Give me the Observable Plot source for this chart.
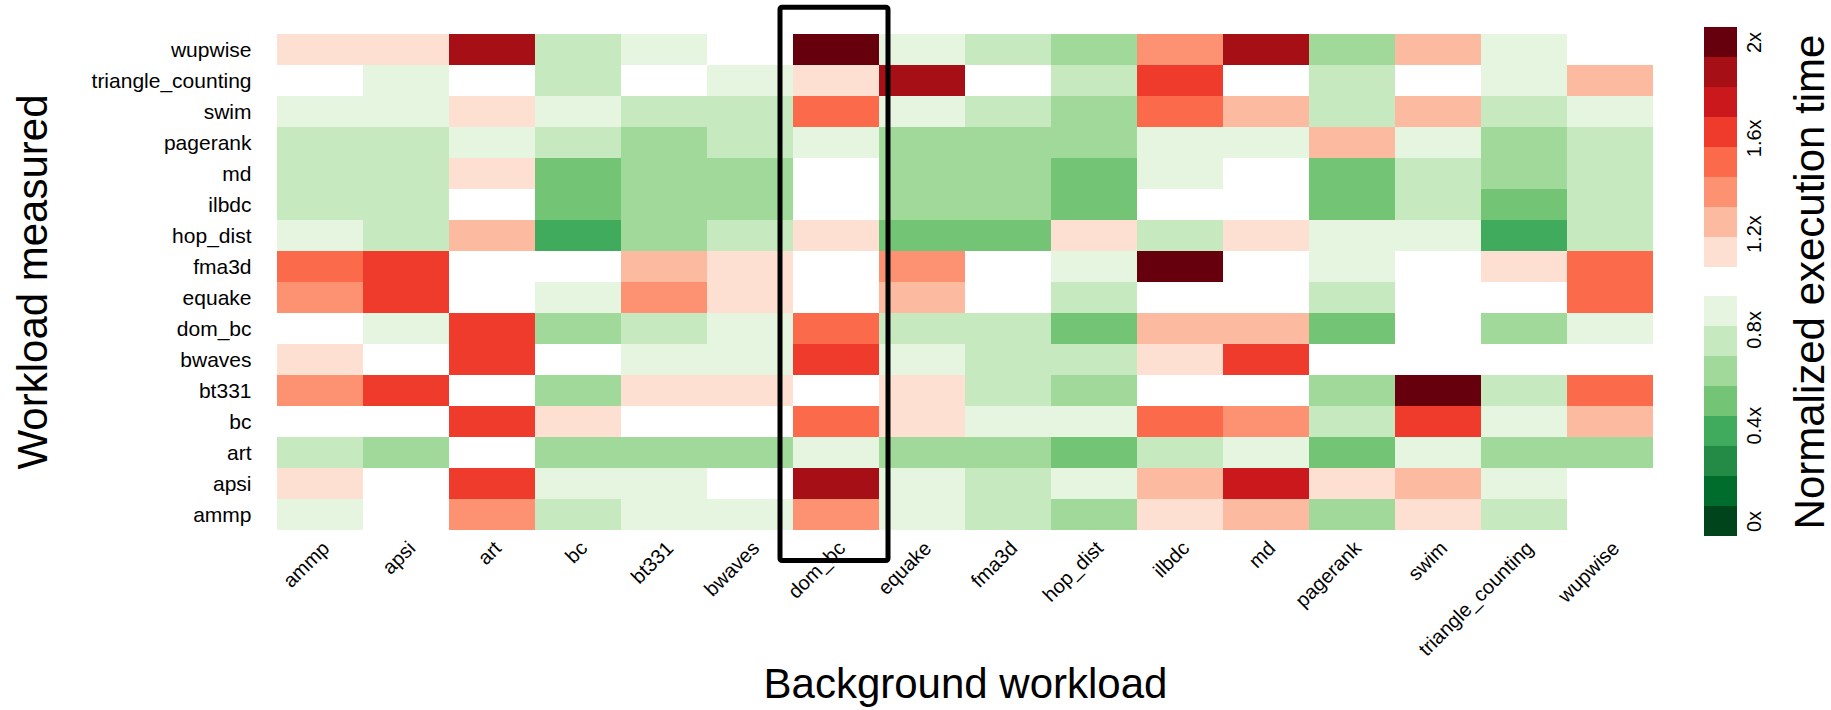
<!DOCTYPE html>
<html>
<head>
<meta charset="utf-8">
<script src="https://cdn.jsdelivr.net/npm/d3@7"></script>
<script src="https://cdn.jsdelivr.net/npm/@observablehq/plot@0.6"></script>
<style>
html, body { margin: 0; padding: 0; background: #fff; }
#chart { display: flex; width: 1831px; height: 710px; }
</style>
</head>
<body>
<div id="chart"></div>
<script>
// Background workloads (columns) and measured workloads (rows)
const background = ["ammp","apsi","art","bc","bt331","bwaves","dom_bc","equake","fma3d","hop_dist","ilbdc","md","pagerank","swim","triangle_counting","wupwise"];
const measured   = ["ammp","apsi","art","bc","bt331","bwaves","dom_bc","equake","fma3d","hop_dist","ilbdc","md","pagerank","swim","triangle_counting","wupwise"];

// Normalized execution time of each measured workload, one value per background workload (column order above)
const row_ammp              = [0.88, 1.00, 1.38, 0.75, 0.88, 0.88, 1.38, 0.88, 0.75, 0.62, 1.12, 1.25, 0.62, 1.12, 0.75, 1.00];
const row_apsi              = [1.12, 1.00, 1.62, 0.88, 0.88, 1.00, 1.88, 0.88, 0.75, 0.88, 1.25, 1.75, 1.12, 1.25, 0.88, 1.00];
const row_art               = [0.75, 0.62, 1.00, 0.62, 0.62, 0.62, 0.88, 0.62, 0.62, 0.50, 0.75, 0.88, 0.50, 0.88, 0.62, 0.62];
const row_bc                = [1.00, 1.00, 1.62, 1.12, 1.00, 1.00, 1.50, 1.12, 0.88, 0.88, 1.50, 1.38, 0.75, 1.62, 0.88, 1.25];
const row_bt331             = [1.38, 1.62, 1.00, 0.62, 1.12, 1.12, 1.00, 1.12, 0.75, 0.62, 1.00, 1.00, 0.62, 2.00, 0.75, 1.50];
const row_bwaves            = [1.12, 1.00, 1.62, 1.00, 0.88, 0.88, 1.62, 0.88, 0.75, 0.75, 1.12, 1.62, 1.00, 1.00, 1.00, 1.00];
const row_dom_bc            = [1.00, 0.88, 1.62, 0.62, 0.75, 0.88, 1.50, 0.75, 0.75, 0.50, 1.25, 1.25, 0.50, 1.00, 0.62, 0.88];
const row_equake            = [1.38, 1.62, 1.00, 0.88, 1.38, 1.12, 1.00, 1.25, 1.00, 0.75, 1.00, 1.00, 0.75, 1.00, 1.00, 1.50];
const row_fma3d             = [1.50, 1.62, 1.00, 1.00, 1.25, 1.12, 1.00, 1.38, 1.00, 0.88, 2.00, 1.00, 0.88, 1.00, 1.12, 1.50];
const row_hop_dist          = [0.88, 0.75, 1.25, 0.38, 0.62, 0.75, 1.12, 0.50, 0.50, 1.12, 0.75, 1.12, 0.88, 0.88, 0.38, 0.75];
const row_ilbdc             = [0.75, 0.75, 1.00, 0.50, 0.62, 0.62, 1.00, 0.62, 0.62, 0.50, 1.00, 1.00, 0.50, 0.75, 0.50, 0.75];
const row_md                = [0.75, 0.75, 1.12, 0.50, 0.62, 0.62, 1.00, 0.62, 0.62, 0.50, 0.88, 1.00, 0.50, 0.75, 0.62, 0.75];
const row_pagerank          = [0.75, 0.75, 0.88, 0.75, 0.62, 0.75, 0.88, 0.62, 0.62, 0.62, 0.88, 0.88, 1.25, 0.88, 0.62, 0.75];
const row_swim              = [0.88, 0.88, 1.12, 0.88, 0.75, 0.75, 1.50, 0.88, 0.75, 0.62, 1.50, 1.25, 0.75, 1.25, 0.75, 0.88];
const row_triangle_counting = [1.00, 0.88, 1.00, 0.75, 1.00, 0.88, 1.12, 1.88, 1.00, 0.75, 1.62, 1.00, 0.75, 1.00, 0.88, 1.25];
const row_wupwise           = [1.12, 1.12, 1.88, 0.75, 0.88, 1.00, 2.00, 0.88, 0.75, 0.62, 1.38, 1.88, 0.62, 1.25, 0.88, 1.00];

const highlighted = ["dom_bc"];

// Colour bins (Greens below 1x, white around 1x, Reds above)
const thresholds = [0.0625, 0.1875, 0.3125, 0.4375, 0.5625, 0.6875, 0.8125, 0.9375, 1.0625, 1.1875, 1.3125, 1.4375, 1.5625, 1.6875, 1.8125, 1.9375];
const binColors  = ["#00441b","#006d2c","#238b45","#41ab5d","#74c476","#a1d99b","#c7e9c0","#e5f5e0","#ffffff","#fee0d2","#fcbba1","#fc9272","#fb6a4a","#ef3b2c","#cb181d","#a50f15","#67000d"];

// Legend
const legendLevels = [0, 0.125, 0.25, 0.375, 0.5, 0.625, 0.75, 0.875, 1.125, 1.25, 1.375, 1.5, 1.625, 1.75, 1.875, 2];
const legendHalf = 0.0625;
const legendTicks = [0, 0.4, 0.8, 1.2, 1.6, 2];

const FONT = "'Liberation Sans', Arial, Helvetica, sans-serif";

const matrix = [row_ammp, row_apsi, row_art, row_bc, row_bt331, row_bwaves, row_dom_bc, row_equake, row_fma3d, row_hop_dist, row_ilbdc, row_md, row_pagerank, row_swim, row_triangle_counting, row_wupwise];
const cells = measured.flatMap((m, i) => background.map((b, j) => ({measured: m, background: b, value: matrix[i][j]})));

const colorOpts = {type: "threshold", domain: thresholds, range: binColors};

const main = Plot.plot({
  width: 1690,
  height: 710,
  marginLeft: 276,
  marginRight: 36,
  marginTop: 27,
  marginBottom: 174,
  style: {fontFamily: FONT, background: "white", color: "black"},
  x: {domain: background, padding: 0, axis: null},
  y: {domain: measured.slice().reverse(), padding: 0, axis: null},
  color: colorOpts,
  marks: [
    Plot.cell(cells, {x: "background", y: "measured", fill: "value", shapeRendering: "crispEdges"}),
    Plot.cell(highlighted, {x: d => d, fill: "none", stroke: "black", strokeWidth: 5,
      insetLeft: -13, insetRight: -9, insetTop: -19.7, insetBottom: -24.5, rx: 2}),
    Plot.text(measured, {y: d => d, frameAnchor: "left", textAnchor: "end", lineAnchor: "middle", dx: -25, fontSize: 21}),
    Plot.text(background, {x: d => d, frameAnchor: "bottom", textAnchor: "end", lineAnchor: "top", rotate: -45, dx: 0, dy: 3, fontSize: 20}),
    Plot.text(["Workload measured"], {frameAnchor: "left", textAnchor: "middle", rotate: -90, lineAnchor: "bottom", dx: -230, fontSize: 42}),
    Plot.text(["Background workload"], {frameAnchor: "bottom", textAnchor: "middle", lineAnchor: "bottom", dy: 161, fontSize: 42})
  ]
});

const legend = Plot.plot({
  width: 141,
  height: 710,
  marginLeft: 14,
  marginRight: 94.5,
  marginTop: 27,
  marginBottom: 174,
  style: {fontFamily: FONT, background: "white", color: "black"},
  y: {domain: [-0.0625, 2.0625], axis: null},
  color: colorOpts,
  marks: [
    Plot.rect(legendLevels, {y1: d => d - legendHalf, y2: d => d + legendHalf, fill: d => d, shapeRendering: "crispEdges"}),
    Plot.text(legendTicks, {y: d => d, text: d => d + "x", frameAnchor: "right", textAnchor: "middle", rotate: -90, lineAnchor: "bottom", dx: 23.5, fontSize: 20}),
    Plot.text(["Normalized execution time"], {frameAnchor: "right", textAnchor: "middle", rotate: -90, lineAnchor: "bottom", dx: 86.5, fontSize: 42})
  ]
});

document.getElementById("chart").append(main, legend);
</script>
</body>
</html>
